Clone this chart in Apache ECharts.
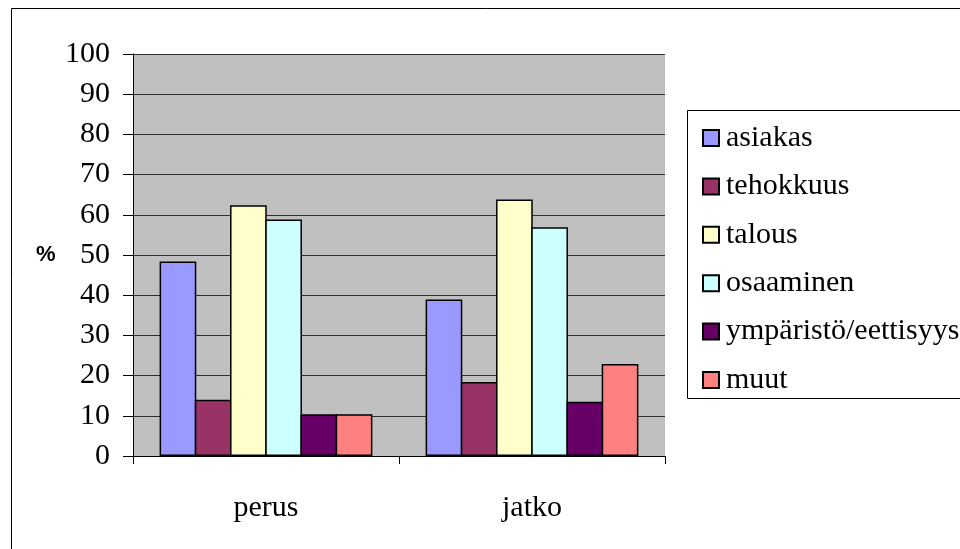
<!DOCTYPE html>
<html><head><meta charset="utf-8">
<script src="https://cdn.jsdelivr.net/npm/echarts@6/dist/echarts.min.js"></script>
<style>html,body{margin:0;padding:0;background:#fff}#c{width:960px;height:549px}</style>
</head><body><div id="c"></div>
<script>
const categories = ['perus', 'jatko'];
const seriesNames = ['asiakas', 'tehokkuus', 'talous', 'osaaminen', 'ympäristö/eettisyys', 'muut'];
const asiakas = [48.4, 38.9];
const tehokkuus = [14.0, 18.4];
const talous = [62.4, 63.8];
const osaaminen = [58.8, 56.9];
const ymparisto = [10.4, 13.5];
const muut = [10.4, 22.9];
const yTicks = [0, 10, 20, 30, 40, 50, 60, 70, 80, 90, 100];
const colors = ['#9999FF', '#993366', '#FFFFCC', '#CCFFFF', '#660066', '#FF8080'];
const values = [asiakas, tehokkuus, talous, osaaminen, ymparisto, muut];

const serif = '"Liberation Serif", "Times New Roman", serif';
const chart = echarts.init(document.getElementById('c'));
chart.setOption({
  animation: false,
  backgroundColor: '#fff',
  textStyle: {fontFamily: serif},
  graphic: [
    {type: 'rect', left: 9, top: 6, shape: {width: 970, height: 560}, style: {fill: 'none', stroke: '#000', lineWidth: 1}, z: -10},
    {type: 'rect', left: 687, top: 110, shape: {width: 300, height: 288}, style: {fill: '#fff', stroke: '#000', lineWidth: 1}, z: -5},
    {type: 'text', left: 36, top: 244, style: {text: '%', font: 'bold 22px "Liberation Sans"', fill: '#000'}}
  ],
  grid: {left: 133, right: 295, top: 54, bottom: 93, show: true, backgroundColor: '#c0c0c0', borderColor: '#808080', borderWidth: 0},
  legend: {
    orient: 'vertical', left: 697, top: 118,
    itemWidth: 16, itemHeight: 16, itemGap: 18.4,
    icon: 'rect',
    textStyle: {fontFamily: serif, fontSize: 30, color: '#000', lineHeight: 30, padding: [0, 0, 0, 2]},
    data: seriesNames
  },
  xAxis: {
    type: 'category', data: categories,
    axisLine: {lineStyle: {color: '#000', width: 1}},
    axisTick: {show: true, length: 8, lineStyle: {color: '#000'}},
    axisLabel: {fontFamily: serif, fontSize: 30, color: '#000', margin: 37}
  },
  yAxis: {
    type: 'value', min: 0, max: 100, interval: 10,
    axisLine: {show: true, lineStyle: {color: '#000', width: 1}},
    axisTick: {show: true, length: 10, lineStyle: {color: '#000'}},
    axisLabel: {fontFamily: serif, fontSize: 30, color: '#000', margin: 23,
      formatter: v => yTicks.indexOf(v) >= 0 ? String(v) : ''},
    splitLine: {show: true, lineStyle: {color: '#303030', width: 1}}
  },
  series: seriesNames.map((n, i) => ({
    name: n, type: 'bar', data: values[i],
    barGap: '-4%', barCategoryGap: '20%',
    itemStyle: {color: colors[i], borderColor: '#000', borderWidth: 1.5}
  }))
});
</script></body></html>
